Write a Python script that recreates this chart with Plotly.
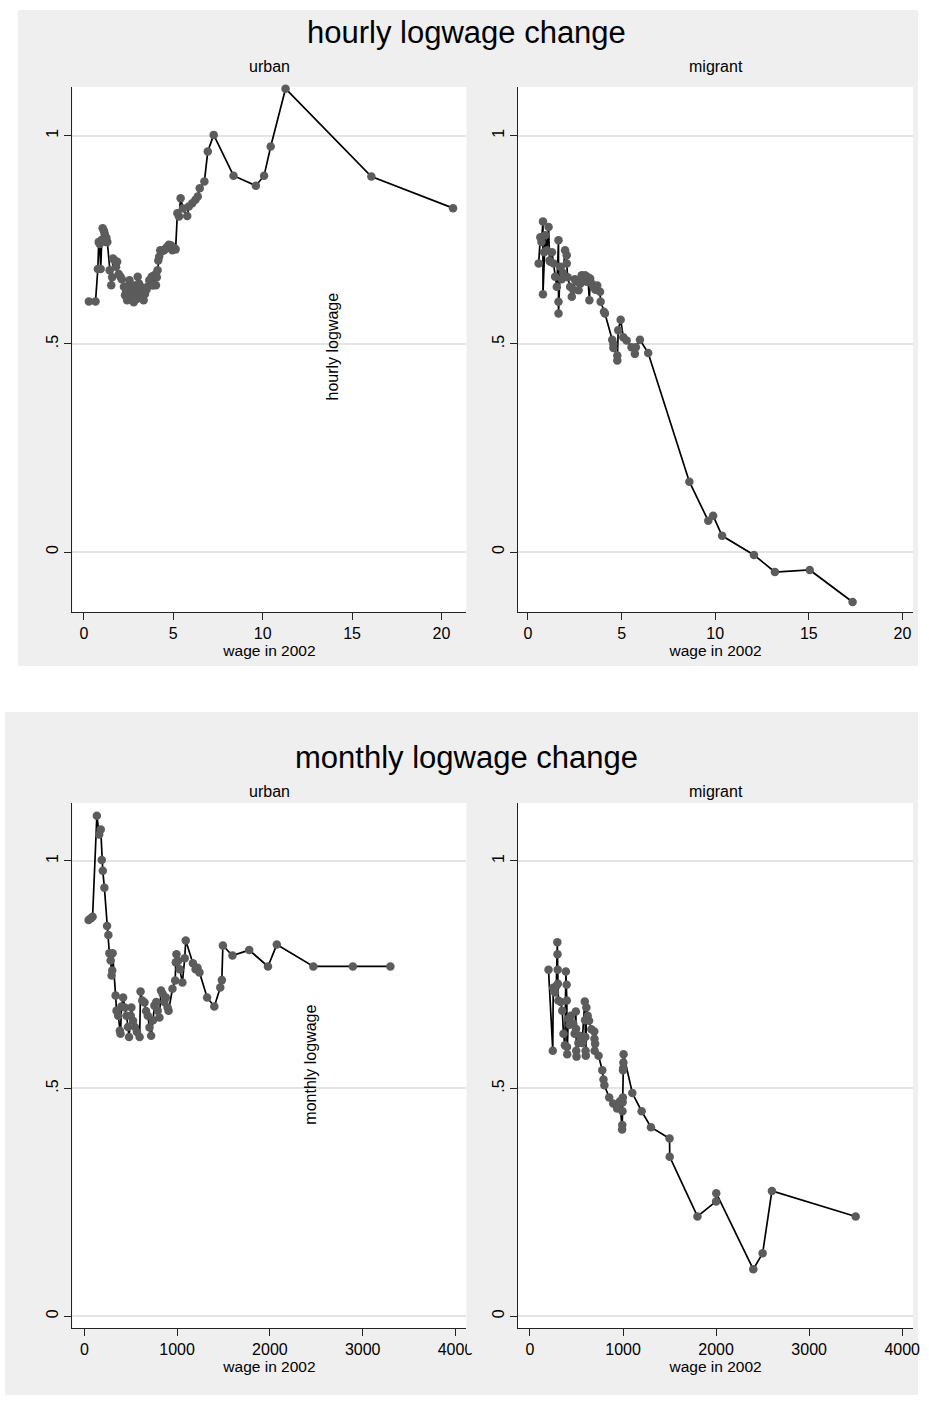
import plotly.graph_objects as go

W, H = 929, 1405

# ---- hourly log wage change by 2002 hourly wage ----
hourly_urban_wage = [0.28, 0.65, 0.78, 0.83, 0.88, 0.94, 1.00, 1.05, 1.12, 1.16, 1.22, 1.26, 1.31,
                     1.44, 1.53, 1.58, 1.63, 1.72, 1.80, 1.86, 1.95, 2.05, 2.12, 2.24, 2.30, 2.36,
                     2.42, 2.46, 2.50, 2.55, 2.60, 2.64, 2.70, 2.79, 2.85, 2.90, 2.96, 3.01, 3.08,
                     3.13, 3.19, 3.26, 3.34, 3.42, 3.50, 3.56, 3.66, 3.72, 3.79, 3.86, 3.93, 4.03,
                     4.08, 4.12, 4.16, 4.21, 4.27, 4.35, 4.49, 4.60, 4.67, 4.75, 4.86, 4.95, 5.05,
                     5.13, 5.23, 5.32, 5.41, 5.55, 5.78, 5.87, 6.06, 6.24, 6.37, 6.48, 6.74, 6.93,
                     7.26, 8.37, 9.62, 10.08, 10.45, 11.28, 16.08, 20.65]
hourly_urban_chg = [0.602, 0.602, 0.680, 0.745, 0.740, 0.680, 0.750, 0.778, 0.772, 0.765, 0.745,
                    0.755, 0.745, 0.677, 0.641, 0.660, 0.705, 0.700, 0.685, 0.697, 0.668, 0.661,
                    0.655, 0.637, 0.617, 0.625, 0.605, 0.613, 0.640, 0.653, 0.610, 0.621, 0.632,
                    0.600, 0.640, 0.620, 0.608, 0.661, 0.645, 0.625, 0.637, 0.615, 0.605, 0.620,
                    0.630, 0.637, 0.653, 0.645, 0.661, 0.640, 0.665, 0.641, 0.660, 0.677, 0.700,
                    0.709, 0.725, 0.722, 0.725, 0.730, 0.733, 0.738, 0.737, 0.725, 0.730, 0.727,
                    0.814, 0.806, 0.850, 0.825, 0.807, 0.830, 0.838, 0.846, 0.854, 0.874, 0.890,
                    0.962, 1.002, 0.904, 0.880, 0.904, 0.974, 1.113, 0.902, 0.826]

hourly_migrant_wage = [0.57, 0.66, 0.72, 0.80, 0.80, 0.86, 0.92, 1.01, 1.10, 1.15, 1.19, 1.28, 1.37,
                       1.45, 1.54, 1.63, 1.63, 1.63, 1.72, 1.80, 1.88, 1.98, 2.07, 2.07, 2.12, 2.25,
                       2.34, 2.42, 2.50, 2.61, 2.70, 2.80, 2.87, 2.96, 3.05, 3.14, 3.20, 3.28, 3.32,
                       3.40, 3.49, 3.60, 3.70, 3.85, 3.88, 4.06, 4.11, 4.50, 4.56, 4.56, 4.77, 4.77,
                       4.82, 4.95, 5.09, 5.27, 5.53, 5.71, 5.76, 5.98, 6.42, 8.62, 9.63, 9.89, 10.37,
                       12.07, 13.19, 15.05, 17.34]
hourly_migrant_chg = [0.693, 0.756, 0.745, 0.794, 0.619, 0.720, 0.761, 0.725, 0.781, 0.700, 0.697,
                      0.720, 0.693, 0.661, 0.637, 0.749, 0.601, 0.573, 0.685, 0.655, 0.670, 0.725,
                      0.713, 0.693, 0.660, 0.637, 0.613, 0.630, 0.655, 0.649, 0.629, 0.645, 0.665,
                      0.660, 0.665, 0.649, 0.660, 0.605, 0.657, 0.645, 0.637, 0.630, 0.640, 0.625,
                      0.601, 0.577, 0.573, 0.510, 0.500, 0.490, 0.472, 0.460, 0.533, 0.558, 0.516,
                      0.508, 0.492, 0.476, 0.492, 0.510, 0.478, 0.169, 0.075, 0.087, 0.039, -0.007,
                      -0.048, -0.043, -0.120]

# ---- monthly log wage change by 2002 monthly wage ----
monthly_urban_wage = [46, 71, 89, 135, 160, 177, 188, 199, 216, 245, 259, 270, 284, 294, 301, 305,
                      337, 347, 365, 383, 390, 400, 418, 436, 455, 470, 482, 500, 507, 525, 545,
                      567, 596, 606, 624, 649, 665, 684, 702, 720, 740, 755, 775, 791, 809, 826,
                      844, 862, 879, 897, 908, 950, 979, 986, 993, 1010, 1028, 1057, 1082, 1093,
                      1170, 1199, 1220, 1241, 1323, 1401, 1465, 1482, 1493, 1596, 1777, 1979, 2074,
                      2468, 2894, 3298]
monthly_urban_chg = [0.870, 0.874, 0.877, 1.099, 1.058, 1.069, 1.002, 0.978, 0.941, 0.857, 0.837,
                     0.797, 0.781, 0.748, 0.759, 0.797, 0.704, 0.671, 0.660, 0.627, 0.620, 0.680,
                     0.700, 0.678, 0.660, 0.635, 0.613, 0.660, 0.678, 0.649, 0.635, 0.624, 0.613,
                     0.713, 0.693, 0.689, 0.670, 0.660, 0.634, 0.616, 0.650, 0.682, 0.690, 0.671,
                     0.656, 0.715, 0.708, 0.690, 0.700, 0.678, 0.671, 0.719, 0.737, 0.777, 0.795,
                     0.780, 0.762, 0.733, 0.786, 0.825, 0.775, 0.762, 0.765, 0.755, 0.700, 0.680,
                     0.722, 0.738, 0.814, 0.792, 0.804, 0.768, 0.816, 0.768, 0.768, 0.768]

monthly_migrant_wage = [199, 245, 250, 269, 283, 294, 296, 298, 300, 305, 330, 347, 360, 375, 386,
                        394, 396, 398, 400, 411, 425, 440, 465, 480, 493, 495, 497, 500, 520, 535,
                        560, 589, 592, 595, 598, 600, 606, 620, 635, 660, 691, 693, 695, 700, 737,
                        777, 790, 800, 851, 894, 936, 968, 990, 992, 994, 996, 998, 1000, 1002, 1004,
                        1006, 1100, 1200, 1300, 1500, 1502, 1800, 2000, 2002, 2400, 2500, 2600, 3500]
monthly_migrant_chg = [0.761, 0.583, 0.721, 0.711, 0.725, 0.821, 0.795, 0.761, 0.730, 0.693, 0.690,
                       0.671, 0.620, 0.595, 0.757, 0.728, 0.693, 0.591, 0.575, 0.653, 0.640, 0.660,
                       0.643, 0.620, 0.669, 0.631, 0.583, 0.570, 0.600, 0.616, 0.600, 0.691, 0.650,
                       0.613, 0.583, 0.572, 0.678, 0.660, 0.649, 0.630, 0.625, 0.609, 0.583, 0.598,
                       0.572, 0.540, 0.520, 0.507, 0.480, 0.467, 0.456, 0.472, 0.410, 0.420, 0.450,
                       0.470, 0.480, 0.540, 0.545, 0.557, 0.575, 0.490, 0.450, 0.415, 0.390, 0.350,
                       0.219, 0.252, 0.270, 0.103, 0.138, 0.275, 0.219]

tick_vals_y = [0, 0.5, 1]
tick_text_y = ["0", ".5", "1"]
hourly_ticks_x = [0, 5, 10, 15, 20]
monthly_ticks_x = [0, 1000, 2000, 3000, 4000]

PANEL_GRAY = "#efefef"
MARKER_GRAY = "#5c5c5c"
FONT = "Liberation Sans, Arial, sans-serif"


def fx(px):
    return px / W


def fy(py):
    return 1 - py / H


fig = go.Figure()

series = [
    (hourly_urban_wage, hourly_urban_chg, "x", "y"),
    (hourly_migrant_wage, hourly_migrant_chg, "x2", "y2"),
    (monthly_urban_wage, monthly_urban_chg, "x3", "y3"),
    (monthly_migrant_wage, monthly_migrant_chg, "x4", "y4"),
]
for xs, ys, xa, ya in series:
    fig.add_trace(go.Scatter(
        x=xs, y=ys, xaxis=xa, yaxis=ya, mode="lines+markers",
        line=dict(color="black", width=1.7),
        marker=dict(color=MARKER_GRAY, size=8.5, line=dict(width=0)),
        showlegend=False, hoverinfo="skip", cliponaxis=False,
    ))


def xaxis(domain, rng, ticks, anchor):
    return dict(
        domain=domain, range=rng, anchor=anchor, tickvals=ticks,
        ticktext=[str(t) for t in ticks],
        showline=True, linecolor="#222222", linewidth=1,
        ticks="outside", ticklen=7, tickcolor="#222222", tickwidth=1,
        showgrid=False, zeroline=False,
        tickfont=dict(family=FONT, size=16, color="black"),
        title=dict(text="wage in 2002", font=dict(family=FONT, size=15.5, color="black"), standoff=1),
        fixedrange=True,
    )


def yaxis(domain, rng, anchor):
    return dict(
        domain=domain, range=rng, anchor=anchor, tickvals=tick_vals_y, ticktext=tick_text_y,
        tickangle=-90,
        showline=True, linecolor="#222222", linewidth=1,
        ticks="outside", ticklen=7, tickcolor="#222222", tickwidth=1,
        showgrid=True, gridcolor="#e4e4e4", gridwidth=1.5, zeroline=False,
        tickfont=dict(family=FONT, size=16, color="black"),
        fixedrange=True,
    )


# plot-area pixel boxes (left, top, right, bottom)
boxes = {
    "tl": (73, 87, 470, 612),
    "tr": (522, 87, 920, 612),
    "bl": (73, 803, 470, 1328),
    "br": (522, 803, 920, 1328),
}


def dom(b):
    l, t, r, bt = b
    return [fx(l), fx(r)], [fy(bt), fy(t)]


xd, yd = dom(boxes["tl"])
xd2, yd2 = dom(boxes["tr"])
xd3, yd3 = dom(boxes["bl"])
xd4, yd4 = dom(boxes["br"])

top_y = [-0.144, 1.117]
bot_y = [-0.026, 1.127]

fig.update_layout(
    width=W, height=H,
    margin=dict(l=0, r=0, t=0, b=0),
    paper_bgcolor="white", plot_bgcolor="white",
    font=dict(family=FONT, color="black"),
    xaxis=xaxis(xd, [-0.64, 21.4], hourly_ticks_x, "y"),
    yaxis=yaxis(yd, top_y, "x"),
    xaxis2=xaxis(xd2, [-0.53, 20.57], hourly_ticks_x, "y2"),
    yaxis2=yaxis(yd2, top_y, "x2"),
    xaxis3=xaxis(xd3, [-128, 4118], monthly_ticks_x, "y3"),
    yaxis3=yaxis(yd3, bot_y, "x3"),
    xaxis4=xaxis(xd4, [-128, 4117], monthly_ticks_x, "y4"),
    yaxis4=yaxis(yd4, bot_y, "x4"),
)

shapes = [
    # gray graph regions
    dict(type="rect", xref="paper", yref="paper", x0=fx(18), x1=fx(925), y0=fy(666), y1=fy(10),
         fillcolor=PANEL_GRAY, line=dict(width=0), layer="below"),
    dict(type="rect", xref="paper", yref="paper", x0=fx(5), x1=fx(925), y0=fy(1395), y1=fy(712),
         fillcolor=PANEL_GRAY, line=dict(width=0), layer="below"),
]
for b in boxes.values():
    l, t, r, bt = b
    shapes.append(dict(type="rect", xref="paper", yref="paper", x0=fx(l), x1=fx(r),
                       y0=fy(bt), y1=fy(t), fillcolor="white", line=dict(width=0), layer="below"))
# the urban monthly subgraph cuts its last tick label at its right edge
shapes.append(dict(type="rect", xref="paper", yref="paper", x0=fx(470.5), x1=fx(521), y0=fy(1353),
                   y1=fy(1332), fillcolor=PANEL_GRAY, line=dict(width=0), layer="above"))
fig.update_layout(shapes=shapes)

annotations = [
    dict(text="hourly logwage change", x=fx(470), y=fy(32), size=31),
    dict(text="monthly logwage change", x=fx(470), y=fy(757), size=31),
    dict(text="urban", x=fx(271.5), y=fy(66), size=16),
    dict(text="migrant", x=fx(721), y=fy(66), size=16),
    dict(text="urban", x=fx(271.5), y=fy(791), size=16),
    dict(text="migrant", x=fx(721), y=fy(791), size=16),
]
for a in annotations:
    fig.add_annotation(text=a["text"], x=a["x"], y=a["y"], xref="paper", yref="paper",
                       xanchor="center", yanchor="middle", showarrow=False,
                       font=dict(family=FONT, size=a["size"], color="black"))

# left-side y titles that land inside the urban panels
fig.add_annotation(text="hourly logwage", x=fx(335), y=fy(346), xref="paper", yref="paper",
                   textangle=-90, showarrow=False, xanchor="center", yanchor="middle",
                   font=dict(family=FONT, size=16, color="black"))
fig.add_annotation(text="monthly logwage", x=fx(312), y=fy(1065), xref="paper", yref="paper",
                   textangle=-90, showarrow=False, xanchor="center", yanchor="middle",
                   font=dict(family=FONT, size=16, color="black"))

fig.write_html("out.html", config={"displayModeBar": False})
